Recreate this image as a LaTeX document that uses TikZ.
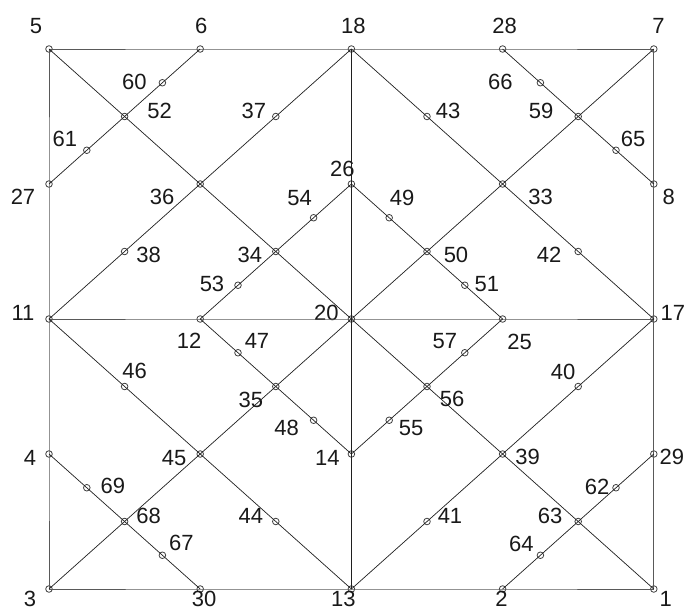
\documentclass[tikz,border=0pt]{standalone}
\usepackage{fontspec}
\setmainfont{Liberation Sans}
\begin{document}
\begin{tikzpicture}[x=75.6pt,y=-67.5pt,
  dot/.style={circle,draw=black!75,line width=0.8pt,minimum size=6.6pt,inner sep=0pt},
  lbl/.style={inner sep=0pt,font=\fontsize{22}{22}\selectfont,text=black!90},
  edge/.style={draw=black!88,line width=0.7pt},
  rim/.style={draw=black!65,line width=0.9pt}]
\useasboundingbox (-49pt,49pt) rectangle (637pt,-561pt);
\newcommand\mknode[5]{\node[dot] (n#1) at (#2,#3) {};
  \node[lbl,xshift=#4pt,yshift=#5pt] (l#1) at (n#1) {#1};}
% top row
\mknode{5}{0}{0}{-13}{23}
\mknode{6}{2}{0}{1}{23}
\mknode{18}{4}{0}{2}{23}
\mknode{28}{6}{0}{2}{23}
\mknode{7}{8}{0}{4.6}{23}
\mknode{60}{1.5}{0.5}{-28}{1}
\mknode{66}{6.5}{0.5}{-40}{1}
\mknode{52}{1}{1}{35}{6}
\mknode{37}{3}{1}{-22}{6}
\mknode{43}{5}{1}{21}{6}
\mknode{59}{7}{1}{-37}{6}
\mknode{61}{0.5}{1.5}{-22}{11}
\mknode{65}{7.5}{1.5}{17}{11}
\mknode{27}{0}{2}{-26}{-13}
\mknode{36}{2}{2}{-38}{-13}
\mknode{26}{4}{2}{-9}{15}
\mknode{33}{6}{2}{38}{-13}
\mknode{8}{8}{2}{15}{-13}
\mknode{54}{3.5}{2.5}{-14}{20}
\mknode{49}{4.5}{2.5}{13}{20}
\mknode{38}{1}{3}{24}{-3}
\mknode{34}{3}{3}{-26}{-3}
\mknode{50}{5}{3}{29}{-3}
\mknode{42}{7}{3}{-29}{-3}
\mknode{53}{2.5}{3.5}{-26}{1}
\mknode{51}{5.5}{3.5}{22}{1}
\mknode{11}{0}{4}{-26}{6}
\mknode{12}{2}{4}{-11}{-22}
\mknode{20}{4}{4}{-25}{6}
\mknode{25}{6}{4}{17}{-23}
\mknode{17}{8}{4}{19}{6}
\mknode{47}{2.5}{4.5}{19}{12}
\mknode{57}{5.5}{4.5}{-20}{12}
\mknode{46}{1}{5}{10}{16}
\mknode{35}{3}{5}{-25}{-13}
\mknode{56}{5}{5}{25}{-12}
\mknode{40}{7}{5}{-15}{15}
\mknode{48}{3.5}{5.5}{-27}{-8}
\mknode{55}{4.5}{5.5}{22}{-8}
\mknode{4}{0}{6}{-19}{-4}
\mknode{45}{2}{6}{-26}{-4}
\mknode{14}{4}{6}{-24}{-4}
\mknode{39}{6}{6}{25}{-3}
\mknode{29}{8}{6}{18}{-3}
\mknode{69}{0.5}{6.5}{26}{2}
\mknode{62}{7.5}{6.5}{-19}{1}
\mknode{68}{1}{7}{24}{6}
\mknode{44}{3}{7}{-25}{6}
\mknode{41}{5}{7}{23}{6}
\mknode{63}{7}{7}{-28}{6}
\mknode{67}{1.5}{7.5}{19}{12}
\mknode{64}{6.5}{7.5}{-19}{11}
\mknode{3}{0}{8}{-19}{-9.5}
\mknode{30}{2}{8}{4}{-9.5}
\mknode{13}{4}{8}{-8}{-9.5}
\mknode{2}{6}{8}{-1}{-9.5}
\mknode{1}{8}{8}{12}{-9.5}
% outer frame
\draw[rim] (n5.center) -- (n6.center) -- (n18.center) -- (n28.center) -- (n7.center)
  -- (n8.center) -- (n17.center) -- (n29.center) -- (n1.center)
  -- (n2.center) -- (n13.center) -- (n30.center) -- (n3.center)
  -- (n4.center) -- (n11.center) -- (n27.center) -- (n5.center);
% middle lines
\draw[rim] (n11.center) -- (n12.center) -- (n20.center) -- (n25.center) -- (n17.center);
\draw[edge] (n18.center) -- (n26.center) -- (n20.center) -- (n14.center) -- (n13.center);
% main diagonals
\draw[edge] (n5.center) -- (n52.center) -- (n36.center) -- (n34.center) -- (n20.center)
  -- (n56.center) -- (n39.center) -- (n63.center) -- (n1.center);
\draw[edge] (n3.center) -- (n68.center) -- (n45.center) -- (n35.center) -- (n20.center)
  -- (n50.center) -- (n33.center) -- (n59.center) -- (n7.center);
% corner cuts
\draw[edge] (n6.center) -- (n60.center) -- (n52.center) -- (n61.center) -- (n27.center);
\draw[edge] (n28.center) -- (n66.center) -- (n59.center) -- (n65.center) -- (n8.center);
\draw[edge] (n4.center) -- (n69.center) -- (n68.center) -- (n67.center) -- (n30.center);
\draw[edge] (n29.center) -- (n62.center) -- (n63.center) -- (n64.center) -- (n2.center);
% big diamond
\draw[edge] (n18.center) -- (n37.center) -- (n36.center) -- (n38.center) -- (n11.center)
  -- (n46.center) -- (n45.center) -- (n44.center) -- (n13.center)
  -- (n41.center) -- (n39.center) -- (n40.center) -- (n17.center)
  -- (n42.center) -- (n33.center) -- (n43.center) -- (n18.center);
% inner diamond
\draw[edge] (n26.center) -- (n54.center) -- (n34.center) -- (n53.center) -- (n12.center)
  -- (n47.center) -- (n35.center) -- (n48.center) -- (n14.center)
  -- (n55.center) -- (n56.center) -- (n57.center) -- (n25.center)
  -- (n51.center) -- (n50.center) -- (n49.center) -- (n26.center);
\end{tikzpicture}
\end{document}
